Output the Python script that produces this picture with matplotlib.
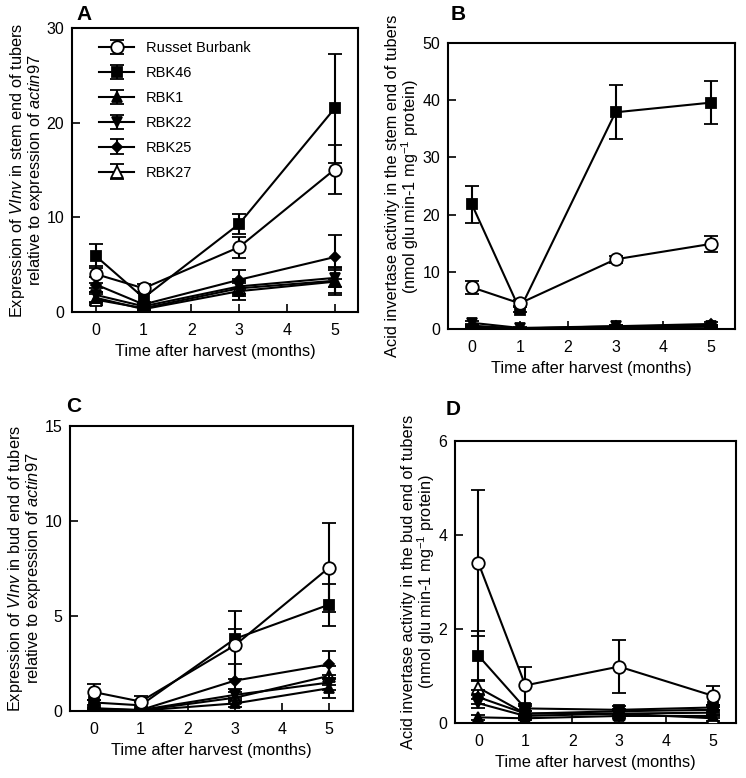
import matplotlib
matplotlib.use("Agg")
import matplotlib.pyplot as plt

plt.rcParams['font.family'] = ['Liberation Sans', 'DejaVu Sans']
plt.rcParams['mathtext.fontset'] = 'custom'
plt.rcParams['mathtext.rm'] = 'Liberation Sans'
plt.rcParams['mathtext.it'] = 'Liberation Sans:italic'

months = [0, 1, 3, 5]
series = ["Russet Burbank", "RBK46", "RBK1", "RBK22", "RBK25", "RBK27"]

# Panel A: VInv expression, stem end
a_rb = [4.0, 2.5, 6.85, 15.05]
a_46 = [5.9, 1.5, 9.3, 21.5]
a_1 = [1.5, 0.3, 2.2, 3.2]
a_22 = [1.8, 0.6, 2.7, 3.6]
a_25 = [2.9, 0.8, 3.4, 5.8]
a_27 = [1.3, 0.4, 2.5, 3.3]
a_rb_err = [0.9, 0.5, 1.1, 2.6]
a_46_err = [1.3, 0.6, 1.1, 5.8]
a_1_err = [0.6, 0.2, 0.9, 1.2]
a_22_err = [0.7, 0.3, 0.8, 1.0]
a_25_err = [0.8, 0.3, 1.0, 2.3]
a_27_err = [0.6, 0.2, 0.8, 1.5]

# Panel B: acid invertase activity, stem end
b_rb = [7.3, 4.5, 12.2, 14.9]
b_46 = [21.8, 3.4, 37.9, 39.6]
b_1 = [0.2, 0.1, 0.3, 0.4]
b_22 = [1.1, 0.2, 0.5, 0.6]
b_25 = [0.6, 0.1, 0.5, 0.9]
b_27 = [0.4, 0.1, 0.3, 0.5]
b_rb_err = [1.1, 0.5, 0.6, 1.4]
b_46_err = [3.2, 0.4, 4.7, 3.7]
b_1_err = [0.2, 0.1, 0.2, 0.2]
b_22_err = [0.4, 0.1, 0.2, 0.2]
b_25_err = [0.3, 0.1, 0.2, 0.3]
b_27_err = [0.2, 0.1, 0.2, 0.2]

# Panel C: VInv expression, bud end
c_rb = [1.0, 0.5, 3.46, 7.55]
c_46 = [0.45, 0.3, 3.8, 5.6]
c_1 = [0.05, 0.02, 0.4, 1.2]
c_22 = [0.1, 0.05, 0.85, 1.5]
c_25 = [0.15, 0.05, 1.6, 2.45]
c_27 = [0.1, 0.03, 0.7, 1.85]
c_rb_err = [0.4, 0.3, 1.8, 2.35]
c_46_err = [0.15, 0.2, 0.5, 1.1]
c_1_err = [0.05, 0.02, 0.2, 0.5]
c_22_err = [0.05, 0.03, 0.3, 0.4]
c_25_err = [0.05, 0.03, 0.9, 0.7]
c_27_err = [0.05, 0.02, 0.3, 0.5]

# Panel D: acid invertase activity, bud end
d_rb = [3.4, 0.8, 1.2, 0.58]
d_46 = [1.43, 0.31, 0.28, 0.33]
d_1 = [0.12, 0.1, 0.15, 0.15]
d_22 = [0.42, 0.15, 0.2, 0.22]
d_25 = [0.55, 0.2, 0.25, 0.28]
d_27 = [0.75, 0.2, 0.2, 0.1]
d_rb_err = [1.55, 0.4, 0.57, 0.2]
d_46_err = [0.52, 0.05, 0.08, 0.05]
d_1_err = [0.05, 0.03, 0.05, 0.05]
d_22_err = [0.1, 0.05, 0.05, 0.05]
d_25_err = [0.15, 0.05, 0.05, 0.05]
d_27_err = [0.15, 0.05, 0.05, 0.05]

styles = {
    "Russet Burbank": dict(marker='o', mfc='white', ms=9),
    "RBK46": dict(marker='s', mfc='black', ms=7.5),
    "RBK1": dict(marker='^', mfc='black', ms=7),
    "RBK22": dict(marker='v', mfc='black', ms=7),
    "RBK25": dict(marker='D', mfc='black', ms=5.5),
    "RBK27": dict(marker='^', mfc='white', ms=8),
}

panels = [
    dict(pos=[0.0965, 0.599, 0.384, 0.365], ylim=(0, 30), yticks=[0, 10, 20, 30],
         vals=[a_rb, a_46, a_1, a_22, a_25, a_27],
         errs=[a_rb_err, a_46_err, a_1_err, a_22_err, a_25_err, a_27_err],
         ylabel="Expression of $\\mathit{VInv}$ in stem end of tubers\nrelative to expression of $\\mathit{actin97}$",
         letter="A", lpos=(0.102, 0.981), legend=True),
    dict(pos=[0.6005, 0.577, 0.385, 0.3676], ylim=(0, 50), yticks=[0, 10, 20, 30, 40, 50],
         vals=[b_rb, b_46, b_1, b_22, b_25, b_27],
         errs=[b_rb_err, b_46_err, b_1_err, b_22_err, b_25_err, b_27_err],
         ylabel="Acid invertase activity in the stem end of tubers\n(nmol glu min-1 mg$^{-1}$ protein)",
         letter="B", lpos=(0.604, 0.981), legend=False),
    dict(pos=[0.0938, 0.0861, 0.379, 0.3663], ylim=(0, 15), yticks=[0, 5, 10, 15],
         vals=[c_rb, c_46, c_1, c_22, c_25, c_27],
         errs=[c_rb_err, c_46_err, c_1_err, c_22_err, c_25_err, c_27_err],
         ylabel="Expression of $\\mathit{VInv}$ in bud end of tubers\nrelative to expression of $\\mathit{actin97}$",
         letter="C", lpos=(0.089, 0.477), legend=False),
    dict(pos=[0.610, 0.0707, 0.3767, 0.3625], ylim=(0, 6), yticks=[0, 2, 4, 6],
         vals=[d_rb, d_46, d_1, d_22, d_25, d_27],
         errs=[d_rb_err, d_46_err, d_1_err, d_22_err, d_25_err, d_27_err],
         ylabel="Acid invertase activity in the bud end of tubers\n(nmol glu min-1 mg$^{-1}$ protein)",
         letter="D", lpos=(0.598, 0.474), legend=False),
]

fig = plt.figure(figsize=(7.46, 7.78), dpi=100)

for p in panels:
    ax = fig.add_axes(p["pos"])
    handles = []
    for i in reversed(range(len(series))):
        name = series[i]
        st = styles[name]
        eb = ax.errorbar(months, p["vals"][i], yerr=p["errs"][i], color='black',
                         marker=st['marker'], mfc=st['mfc'], mec='black', ms=st['ms'],
                         mew=1.3, lw=1.5, elinewidth=1.5, capsize=5, capthick=1.5,
                         label=name, zorder=3 + (len(series) - i))
        handles.append(eb)
    ax.set_xlim(-0.5, 5.5)
    ax.set_ylim(*p["ylim"])
    ax.set_xticks([0, 1, 2, 3, 4, 5])
    ax.set_yticks(p["yticks"])
    ax.tick_params(direction='in', length=6, width=1.2, labelsize=11.5)
    ax.tick_params(axis='x', pad=8)
    ax.tick_params(axis='y', pad=5.5)
    for s in ax.spines.values():
        s.set_linewidth(1.5)
    ax.set_xlabel("Time after harvest (months)", fontsize=11.8, labelpad=4)
    ax.set_ylabel(p["ylabel"], fontsize=11.8, labelpad=1, linespacing=0.95)
    fig.text(p["lpos"][0], p["lpos"][1], p["letter"], fontsize=15, fontweight='bold',
             ha='left', va='center')
    if p["legend"]:
        h = list(reversed(handles))
        ax.legend(h, series, loc='upper left', frameon=False, fontsize=10.5,
                  bbox_to_anchor=(0.05, 1.0), handlelength=2.4, labelspacing=0.75,
                  handletextpad=0.8)

fig.savefig("out.png", dpi=100)
